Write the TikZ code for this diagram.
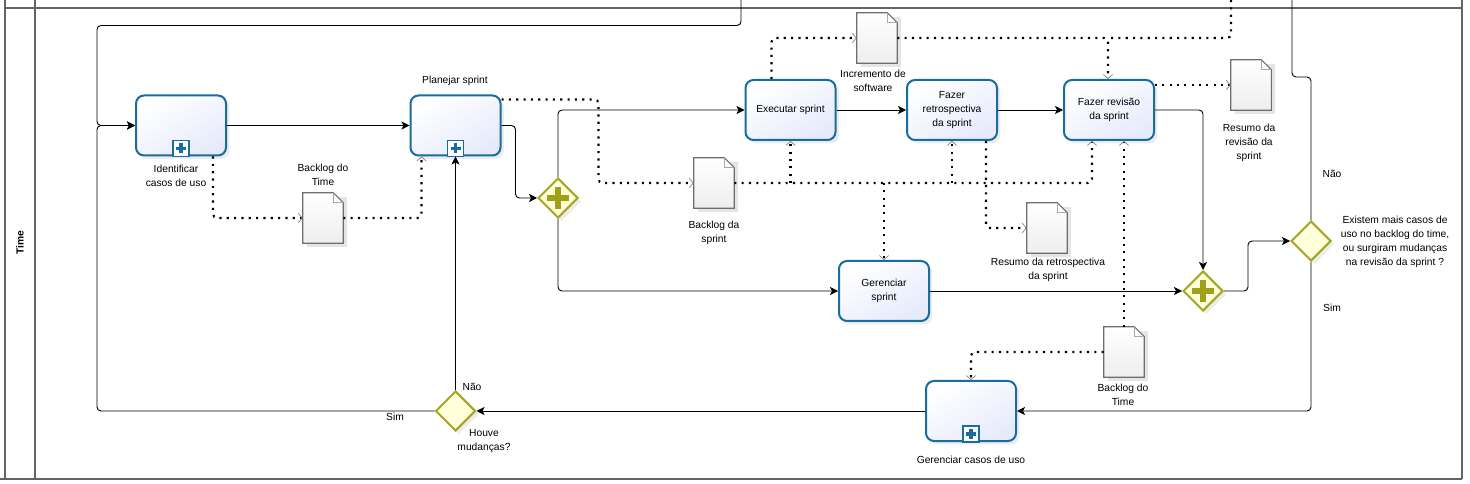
\documentclass[tikz,border=0pt]{standalone}
\usepackage{fontspec}
\setmainfont{Liberation Sans}
\usetikzlibrary{arrows.meta,calc,positioning,shapes.geometric,shadows}
\definecolor{taskline}{RGB}{24,108,160}
\definecolor{taskfill}{RGB}{230,235,252}
\definecolor{gwline}{RGB}{165,165,35}
\definecolor{gwfill}{RGB}{255,255,218}
\definecolor{gwplus}{RGB}{160,160,25}
\definecolor{docline}{RGB}{110,110,110}
\definecolor{docfill}{RGB}{238,238,238}
\definecolor{poolline}{RGB}{100,100,100}
\tikzset{
  txt/.style   = {font=\fontsize{7.7}{10.5}\selectfont},
  task/.style  = {txt, draw=taskline, line width=1.5pt, rounded corners=6pt,
                  top color=white, bottom color=taskfill, shading angle=30,
                  minimum width=67.5pt, minimum height=45pt, inner sep=1pt, align=center,
                  drop shadow={opacity=0.15, shadow xshift=2.5pt, shadow yshift=-2.5pt}},
  doc/.style   = {minimum width=30pt, minimum height=37.5pt, inner sep=0},
  gate/.style  = {diamond, aspect=1, draw=gwline, line width=1.5pt, fill=gwfill,
                  minimum width=30pt, minimum height=30pt, inner sep=0,
                  drop shadow={opacity=0.15, shadow xshift=2.5pt, shadow yshift=-2.5pt}},
  pgate/.style = {gate, path picture={\draw[gwplus, line width=5pt]
                  ([xshift=-8.2pt]path picture bounding box.center) -- ([xshift=8.2pt]path picture bounding box.center)
                  ([yshift=-8.2pt]path picture bounding box.center) -- ([yshift=8.2pt]path picture bounding box.center);}},
  flow/.style  = {-{Stealth[length=6pt,width=6pt,inset=1.5pt]}, line width=0.7pt, rounded corners=3pt},
  assoc/.style = {-{Straight Barb[length=3pt,width=7pt,line width=0.5pt,color=gray]},
                  line width=1.6pt, dash pattern=on 1.6pt off 3.9pt, rounded corners=3pt},
  lbl/.style   = {txt, align=center, inner sep=0},
  pool/.style  = {draw=poolline, line width=1.1pt},
}
\newcommand\submarker[1]{%
  \draw[taskline, line width=1.2pt, fill=white] ($(#1.south)+(-8,-16)$) rectangle ($(#1.south)+(8,0)$);
  \draw[taskline, line width=2.4pt] ($(#1.south)+(-5,-8)$) -- ($(#1.south)+(5,-8)$)
    ($(#1.south)+(0,-13)$) -- ($(#1.south)+(0,-3)$);}
\newcommand\docshape[1]{%
  \fill[black, opacity=0.1] ($(#1.north west)+(4,4)$) rectangle ($(#1.south east)+(4,4)$);
  \draw[docline, line width=0.8pt, top color=white, bottom color=docfill]
    (#1.north west) -- ($(#1.north east)+(-10,0)$) -- ($(#1.north east)+(0,10)$)
    -- (#1.south east) -- (#1.south west) -- cycle;
  \draw[docline!60, line width=0.5pt] ($(#1.north east)+(-10,0)$) |- ($(#1.north east)+(0,10)$);}

\begin{document}
\begin{tikzpicture}[x=0.75pt,y=-0.75pt]
  \useasboundingbox (0,0) rectangle (1470,484);
  % pool
  \draw[pool] (5,0) -- (5,479) (35,0) -- (35,479) (5,8) -- (1462,8)
    (0,479) -- (1462,479) (1462,0) -- (1462,479);
  \node[txt, font=\bfseries\fontsize{7.7}{9}\selectfont, rotate=90] (lane) at (20,243) {Time};

  % tasks
  \node[task] (idf) at (181,125.5) {};
  \node[task] (plan) at (455.5,125.5) {};
  \node[task] (exec) at (790.5,110) {Executar sprint};
  \node[task] (retro) at (952,110) {Fazer\\retrospectiva\\da sprint};
  \node[task] (rev) at (1109,110) {Fazer revisão\\da sprint};
  \node[task] (gsp) at (884,291) {Gerenciar\\sprint};
  \node[task] (gcu) at (971,411) {};
  \foreach \t in {idf,plan,gcu} {\submarker{\t}}

  % gateways
  \node[pgate] (g1) at (558,198) {};
  \node[pgate] (g2) at (1203,291) {};
  \node[gate] (g3) at (1311,241) {};
  \node[gate] (g4) at (455.5,411) {};

  % documents
  \foreach \n/\x/\y in {bt1/323/218, inc/877/38, bsp/714/183, rrev/1251/85, rret/1047/228, bt2/1124/352}
    {\node[doc] (\n) at (\x,\y) {}; \docshape{\n}}

  % labels
  \node[lbl] (idf-t) at (176,176) {Identificar\\casos de uso};
  \node[lbl] (plan-t) at (455,81) {Planejar sprint};
  \node[lbl] (gcu-t) at (971,460) {Gerenciar casos de uso};
  \node[lbl] (bt1-t) at (323,175) {Backlog do\\Time};
  \node[lbl] (inc-t) at (873,81) {Incremento de\\software};
  \node[lbl] (bsp-t) at (714,233) {Backlog da\\sprint};
  \node[lbl] (rrev-t) at (1249,143) {Resumo da\\revisão da\\sprint};
  \node[lbl] (rret-t) at (1048,270) {Resumo da retrospectiva\\da sprint};
  \node[lbl] (bt2-t) at (1123,395) {Backlog do\\Time};
  \node[lbl] (g3-t) at (1395,242) {Existem mais casos de\\uso no backlog do time,\\ou surgiram mudanças\\na revisão da sprint ?};
  \node[lbl] (g3-nao) at (1332,174) {Não};
  \node[lbl] (g3-sim) at (1332,308) {Sim};
  \node[lbl] (g4-nao) at (472,387) {Não};
  \node[lbl] (g4-sim) at (395,417) {Sim};
  \node[lbl] (g4-t) at (484,441) {Houve\\mudanças?};

  % sequence flows
  \coordinate (from-top) at (741,0);
  \coordinate (to-top) at (1292,0);
  \coordinate (data-top) at (1231,0);
  \coordinate (loop) at ($(idf.west)+(-38,0)$);
  \draw[flow] (from-top) |- ($(loop)+(0,-100)$) -- (loop) -- (idf.west);
  \draw[flow] (g4.west) -| (loop) -- (idf.west);
  \draw[flow] (idf) -- (plan);
  \draw[flow] (plan.east) -- ++(14,0) |- (g1.west);
  \draw[flow] (g1.north) |- (exec.west);
  \draw[flow] (g1.south) |- (gsp.west);
  \draw[flow] (exec) -- (retro);
  \draw[flow] (retro) -- (rev);
  \draw[flow] (rev.east) -| (g2.north);
  \draw[flow] (gsp) -- (g2);
  \draw[flow] (g2.east) -- ++(24,0) |- (g3.west);
  \draw[flow, -] (g3.north) |- ($(to-top)+(0,77)$) -- (to-top);
  \draw[flow] (g3.south) |- (gcu.east);
  \draw[flow] (gcu) -- (g4);
  \draw[flow] (g4) -- (plan);

  % data associations
  \draw[assoc] ($(idf.south)+(32,0)$) |- (bt1.west);
  \draw[assoc] (bt1.east) -| ($(plan.south)+(-34,0)$);
  \draw[assoc] ($(plan.north east)+(0,5)$) -- ++(97,0) |- (bsp.west);
  \draw[assoc] (bsp.east) -| ($(rev.south)+(-17,0)$);
  \foreach \t in {exec,retro} {\draw[assoc] (bsp.east -| \t.south) -- (\t.south);}
  \draw[assoc] (bsp.east -| gsp.north) -- (gsp.north);
  \draw[assoc] ($(exec.north)+(-19,0)$) |- (inc.west);
  \draw[assoc] (inc.east) -| ($(rev.north)+(-1,0)$);
  \draw[assoc, -] (data-top) |- ($(inc.east -| rev.north)+(-1,0)$);
  \draw[assoc] (rev.east |- rrev.west) -- (rrev.west);
  \draw[assoc] ($(retro.south)+(34,0)$) |- (rret.west);
  \draw[assoc] (bt2.north) -- (bt2.north |- rev.south);
  \draw[assoc] (bt2.west) -| (gcu.north);
\end{tikzpicture}
\end{document}
